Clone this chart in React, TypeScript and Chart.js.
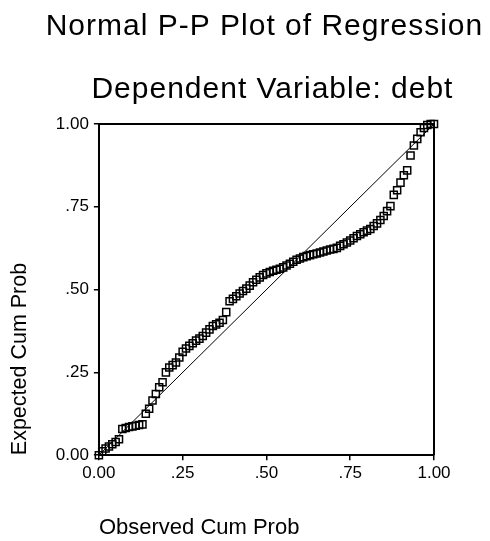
import React, { useEffect, useRef } from "react";
import { Chart, registerables } from "chart.js";

Chart.register(...registerables);

// ---- Data ----
const observedCumProb = [
  0.00, 0.01, 0.02, 0.03, 0.04, 0.05, 0.06, 0.07, 0.08, 0.09,
  0.10, 0.11, 0.12, 0.13, 0.14, 0.15, 0.16, 0.17, 0.18, 0.19,
  0.20, 0.21, 0.22, 0.23, 0.24, 0.25, 0.26, 0.27, 0.28, 0.29,
  0.30, 0.31, 0.32, 0.33, 0.34, 0.35, 0.36, 0.37, 0.38, 0.39,
  0.40, 0.41, 0.42, 0.43, 0.44, 0.45, 0.46, 0.47, 0.48, 0.49,
  0.50, 0.51, 0.52, 0.53, 0.54, 0.55, 0.56, 0.57, 0.58, 0.59,
  0.60, 0.61, 0.62, 0.63, 0.64, 0.65, 0.66, 0.67, 0.68, 0.69,
  0.70, 0.71, 0.72, 0.73, 0.74, 0.75, 0.76, 0.77, 0.78, 0.79,
  0.80, 0.81, 0.82, 0.83, 0.84, 0.85, 0.86, 0.87, 0.88, 0.89,
  0.90, 0.91, 0.92, 0.93, 0.94, 0.95, 0.96, 0.97, 0.98, 0.99,
  1.00,
];

const expectedCumProb = [
  0.000, 0.012, 0.020, 0.026, 0.033, 0.040, 0.048, 0.079, 0.082, 0.085,
  0.087, 0.089, 0.091, 0.093, 0.125, 0.140, 0.165, 0.185, 0.205, 0.220,
  0.250, 0.265, 0.272, 0.280, 0.295, 0.312, 0.322, 0.330, 0.338, 0.346,
  0.352, 0.360, 0.370, 0.380, 0.390, 0.395, 0.400, 0.408, 0.432, 0.465,
  0.472, 0.480, 0.488, 0.496, 0.503, 0.512, 0.522, 0.530, 0.537, 0.544,
  0.549, 0.553, 0.557, 0.560, 0.563, 0.567, 0.573, 0.578, 0.584, 0.590,
  0.594, 0.598, 0.601, 0.604, 0.607, 0.609, 0.612, 0.615, 0.618, 0.621,
  0.623, 0.626, 0.632, 0.637, 0.642, 0.648, 0.655, 0.662, 0.667, 0.673,
  0.678, 0.683, 0.692, 0.700, 0.710, 0.722, 0.737, 0.752, 0.786, 0.800,
  0.823, 0.845, 0.860, 0.905, 0.935, 0.955, 0.975, 0.988, 0.997, 1.000,
  1.000,
];

const referenceLine = [0, 1];
const tickValues = [0, 0.25, 0.5, 0.75, 1];
const xTickLabels = ["0.00", ".25", ".50", ".75", "1.00"];
const yTickLabels = ["0.00", ".25", ".50", ".75", "1.00"];
const titleLines = ["Normal P-P Plot of Regression", "Dependent Variable: debt"];
const xAxisTitle = "Observed Cum Prob";
const yAxisTitle = "Expected Cum Prob";

const FONT = '"Liberation Sans", Arial, Helvetica, sans-serif';

const frameAndTitles = {
  id: "frameAndTitles",
  afterDraw(chart: any) {
    const { ctx, chartArea } = chart;
    const { left, top, right, bottom } = chartArea;
    ctx.save();
    ctx.strokeStyle = "#000";
    ctx.lineWidth = 2;
    ctx.beginPath();
    ctx.moveTo(left, top);
    ctx.lineTo(right, top);
    ctx.lineTo(right, bottom);
    ctx.stroke();

    ctx.fillStyle = "#000";
    ctx.font = `30px ${FONT}`;
    ctx.textAlign = "center";
    ctx.textBaseline = "alphabetic";
    try {
      (ctx as any).letterSpacing = "1px";
    } catch (e) {}
    const cx = (left + right) / 2;
    ctx.fillText(titleLines[0], cx - 2, 35);
    ctx.fillText(titleLines[1], cx + 6, 98);
    ctx.restore();
  },
};

export default function App() {
  const canvasRef = useRef<HTMLCanvasElement | null>(null);

  useEffect(() => {
    if (!canvasRef.current) return;
    const points = observedCumProb.map((x, i) => ({ x, y: expectedCumProb[i] }));
    const diag = referenceLine.map((v) => ({ x: v, y: v }));

    const chart = new Chart(canvasRef.current, {
      type: "scatter",
      data: {
        datasets: [
          {
            type: "scatter",
            label: "P-P",
            data: points,
            pointStyle: "rect",
            pointRadius: 5,
            pointHoverRadius: 5,
            borderWidth: 1.5,
            borderColor: "#000",
            backgroundColor: "rgba(0,0,0,0)",
            clip: false as any,
          },
          {
            type: "line",
            label: "ref",
            data: diag,
            borderColor: "#000",
            borderWidth: 1,
            pointRadius: 0,
            fill: false,
          },
        ],
      } as any,
      options: {
        animation: false,
        responsive: false,
        maintainAspectRatio: false,
        layout: { padding: { top: 124, right: 56, bottom: 0, left: 0 } },
        plugins: {
          legend: { display: false },
          title: { display: false },
          tooltip: { enabled: false },
        },
        scales: {
          x: {
            type: "linear",
            min: 0,
            max: 1,
            afterBuildTicks: (scale: any) => {
              scale.ticks = tickValues.map((v) => ({ value: v }));
            },
            ticks: {
              callback: (value: any) => xTickLabels[tickValues.indexOf(Number(value))],
              font: { family: FONT, size: 17 },
              color: "#000",
              padding: 3,
              maxRotation: 0,
              autoSkip: false,
            },
            grid: {
              drawOnChartArea: false,
              drawTicks: true,
              tickLength: 5,
              color: "#000",
              lineWidth: 1.5,
            },
            border: { display: true, color: "#000", width: 2 },
            title: {
              display: true,
              text: xAxisTitle,
              align: "start",
              color: "#000",
              font: { family: FONT, size: 22 },
              padding: { top: 28, bottom: 0 },
            },
          },
          y: {
            type: "linear",
            min: 0,
            max: 1,
            afterBuildTicks: (scale: any) => {
              scale.ticks = tickValues.map((v) => ({ value: v }));
            },
            ticks: {
              callback: (value: any) => yTickLabels[tickValues.indexOf(Number(value))],
              font: { family: FONT, size: 17 },
              color: "#000",
              padding: 5,
              autoSkip: false,
            },
            grid: {
              drawOnChartArea: false,
              drawTicks: true,
              tickLength: 5,
              color: "#000",
              lineWidth: 1.5,
            },
            border: { display: true, color: "#000", width: 2 },
            title: {
              display: true,
              text: yAxisTitle,
              align: "start",
              color: "#000",
              font: { family: FONT, size: 21.5 },
              padding: { top: 7, bottom: 18 },
            },
          },
        },
      } as any,
      plugins: [frameAndTitles],
    });

    return () => chart.destroy();
  }, []);

  return (
    <div style={{ position: "absolute", left: 0, top: 0, width: 490, height: 541, background: "#fff" }}>
      <canvas ref={canvasRef} width={490} height={541} style={{ display: "block" }} />
    </div>
  );
}
